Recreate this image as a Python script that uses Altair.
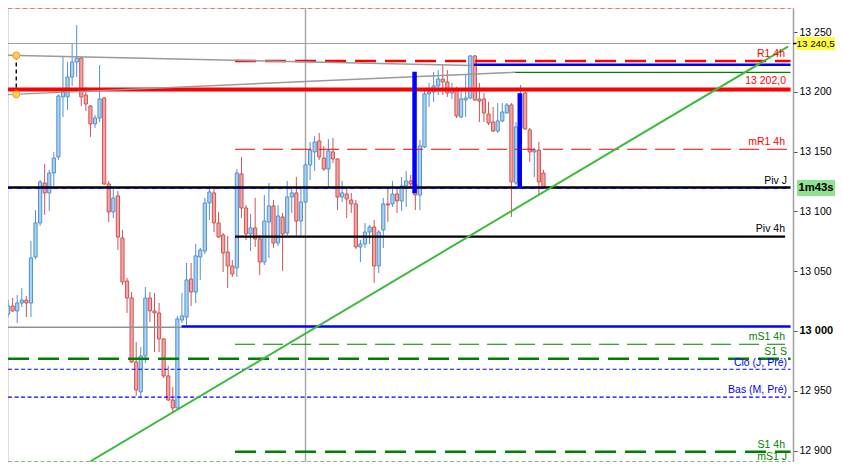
import altair as alt
import pandas as pd

# ---------------- candles ----------------
opens = [
    13014.2, 13020.9, 13016.8, 13023.4, 13025.9, 13023.4, 13061.9, 13090.4, 13123.8, 13115.5,
    13132.2, 13145.6, 13195.8, 13195.8, 13212.5, 13225.0, 13228.4, 13197.4, 13188.2, 13173.2,
    13178.2, 13194.9, 13123.0, 13099.6, 13113.0, 13077.8, 13041.8, 13027.6, 12974.1, 12949.0,
    12979.1, 13027.6, 13016.8, 13015.1, 12993.3, 12962.4, 12942.3, 12935.6, 13009.2, 13011.7,
    13043.5, 13032.6, 13061.9, 13066.9, 13107.1, 13115.5, 13090.4, 13080.3, 13066.1, 13054.4,
    13052.7, 13131.4, 13102.9, 13081.2, 13086.2, 13077.0, 13057.7, 13091.2, 13104.6, 13073.6,
    13095.4, 13082.0, 13112.1, 13115.5, 13092.0, 13107.9, 13138.9, 13149.8, 13159.0, 13144.7,
    13135.5, 13149.8, 13143.9, 13112.1, 13114.6, 13109.6, 13106.3, 13070.3, 13072.8, 13082.8,
    13087.0, 13054.4, 13084.5, 13106.3, 13106.3, 13114.6, 13108.8, 13121.3, 13125.5, 13123.0,
    13113.8, 13153.9, 13198.3, 13199.9, 13205.0, 13210.8, 13208.3, 13199.1, 13201.6, 13179.0,
    13193.3, 13194.9, 13230.1, 13194.1, 13194.1, 13181.5, 13174.8, 13167.3, 13175.7, 13182.4,
    13189.1, 13123.8, 13169.8, 13199.1, 13168.2, 13149.8, 13151.4, 13132.2,
]
highs = [
    13025.9, 13027.6, 13030.1, 13036.0, 13029.3, 13075.3, 13101.2, 13126.3, 13139.7, 13134.7,
    13149.8, 13198.0, 13229.2, 13225.0, 13240.9, 13256.0, 13229.0, 13204.1, 13189.0, 13180.7,
    13222.5, 13195.8, 13125.5, 13119.6, 13117.1, 13084.5, 13044.4, 13032.6, 12990.8, 12986.6,
    13036.8, 13032.6, 13031.8, 13023.4, 12994.0, 12970.7, 12953.2, 13012.6, 13031.8, 13056.9,
    13056.9, 13072.8, 13069.4, 13111.3, 13119.6, 13119.6, 13099.6, 13082.0, 13079.5, 13059.4,
    13135.5, 13145.6, 13105.4, 13097.9, 13111.3, 13080.3, 13113.8, 13123.8, 13109.6, 13105.4,
    13098.7, 13125.5, 13118.8, 13128.8, 13119.6, 13140.5, 13158.1, 13163.1, 13165.6, 13154.8,
    13160.6, 13161.5, 13144.5, 13125.5, 13119.6, 13115.5, 13109.6, 13076.1, 13090.4, 13088.7,
    13092.9, 13084.5, 13111.3, 13118.8, 13125.5, 13119.6, 13128.8, 13133.9, 13130.5, 13128.0,
    13159.8, 13201.6, 13207.5, 13216.7, 13218.3, 13222.5, 13218.3, 13207.5, 13204.1, 13201.6,
    13214.2, 13230.9, 13230.9, 13207.5, 13199.1, 13191.6, 13187.4, 13190.7, 13190.7, 13190.7,
    13190.7, 13174.8, 13205.8, 13199.9, 13169.8, 13153.1, 13158.1, 13134.7,
]
lows = [
    13011.7, 13016.0, 13006.7, 13020.1, 13011.7, 13011.7, 13060.2, 13087.9, 13097.1, 13100.4,
    13121.3, 13143.1, 13179.0, 13184.9, 13205.0, 13212.5, 13188.2, 13184.0, 13162.3, 13169.8,
    13174.8, 13122.1, 13091.2, 13094.5, 13067.8, 13038.5, 13015.1, 12973.2, 12945.6, 12944.8,
    12973.2, 13007.5, 12982.4, 12982.4, 12960.7, 12941.5, 12931.4, 12935.0, 13006.7, 13005.0,
    13020.9, 13023.4, 13042.7, 13064.4, 13092.9, 13082.8, 13077.8, 13049.4, 13036.0, 13045.2,
    13045.2, 13094.5, 13076.1, 13066.9, 13070.3, 13046.9, 13055.2, 13061.1, 13069.4, 13071.1,
    13050.2, 13078.6, 13098.7, 13079.5, 13079.5, 13107.1, 13126.3, 13133.9, 13143.1, 13133.9,
    13120.5, 13140.5, 13101.2, 13107.9, 13094.5, 13098.7, 13068.6, 13057.7, 13069.4, 13072.8,
    13040.2, 13048.5, 13069.4, 13091.2, 13103.7, 13098.7, 13100.4, 13103.7, 13120.5, 13101.2,
    13101.2, 13153.0, 13187.4, 13191.6, 13197.4, 13197.4, 13195.8, 13194.1, 13178.2, 13178.2,
    13179.0, 13194.1, 13192.4, 13174.8, 13174.8, 13172.3, 13166.5, 13165.6, 13174.8, 13182.0,
    13095.4, 13122.1, 13119.6, 13168.2, 13141.4, 13128.8, 13113.8, 13118.8,
]
closes = [
    13020.9, 13016.8, 13023.4, 13025.9, 13023.4, 13061.1, 13090.4, 13124.7, 13115.5, 13132.2,
    13144.7, 13196.6, 13200.8, 13212.5, 13225.0, 13228.4, 13195.8, 13189.9, 13173.2, 13178.2,
    13194.1, 13123.0, 13099.6, 13111.3, 13078.6, 13041.0, 13027.6, 12974.1, 12950.7, 12979.1,
    13027.6, 13016.8, 13015.1, 12993.3, 12962.4, 12942.3, 12935.6, 13010.1, 13012.6, 13042.7,
    13032.6, 13062.8, 13067.8, 13107.1, 13116.3, 13090.4, 13078.6, 13065.3, 13054.4, 13047.7,
    13132.2, 13102.9, 13081.2, 13086.2, 13077.0, 13057.7, 13092.0, 13104.6, 13073.6, 13096.2,
    13081.2, 13112.1, 13115.5, 13092.0, 13107.9, 13138.9, 13151.4, 13158.1, 13145.6, 13135.5,
    13150.6, 13143.9, 13112.1, 13115.5, 13110.4, 13106.3, 13070.3, 13072.8, 13082.8, 13087.0,
    13054.4, 13082.8, 13106.3, 13105.4, 13114.6, 13108.8, 13121.3, 13125.5, 13123.0, 13113.8,
    13154.8, 13198.3, 13199.9, 13205.0, 13210.8, 13208.3, 13199.1, 13201.6, 13179.9, 13194.1,
    13194.9, 13230.1, 13193.3, 13192.4, 13182.4, 13174.0, 13167.3, 13175.7, 13183.2, 13189.1,
    13124.7, 13170.7, 13198.3, 13169.0, 13149.8, 13151.4, 13124.7, 13119.6,
]
assert len(opens) == len(highs) == len(lows) == len(closes), (len(opens), len(highs), len(lows), len(closes))

# ---------------- horizontal levels ----------------
level_names = ["top", "h13240", "R1 4h", "blue_hi", "green_hi", "13 202,0", "mR1 4h",
               "Piv J", "Piv J dash", "Piv 4h", "gray_lo", "blue_lo", "mS1 4h", "S1 S",
               "Clo (J, Pré)", "Bas (M, Pré)", "S1 4h", "mS1 J"]
level_prices = [13275.0, 13240.5, 13225.9, 13222.8, 13216.4, 13202.0, 13152.0,
                13120.0, 13119.2, 13078.9, 13003.1, 13003.8, 12988.9, 12976.8,
                12968.0, 12944.6, 12899.0, 12885.6]
level_from = [0, 0, 49.6, 101.8, 110.8, 0, 49.6, 0, 0, 49.6, 0, 37.9, 49.6, 0, 0, 0, 49.6, 0]
level_to = [171, 171, 171, 171, 171, 171, 171, 171, 171, 169.8, 37.9, 171, 169.8, 171, 171, 171, 171, 171]

# line labels
label_texts = ["R1 4h", "13 202,0", "mR1 4h", "Piv J", "Piv 4h", "mS1 4h", "S1 S",
               "Clo (J, Pré)", "Bas (M, Pré)", "S1 4h", "mS1 J"]
label_prices = [13225.9, 13202.0, 13152.0, 13120.0, 13078.9, 12988.9, 12976.8,
                12968.0, 12944.6, 12899.0, 12885.6]

# drawn objects
upper_gray_i = [0, 101.4]
upper_gray_p = [13230.65, 13222.1]
lower_gray_i = [0, 110.8]
lower_gray_p = [13197.7, 13216.4]
handle_i = [1.79, 1.79]
handle_p = [13230.5, 13198.0]
trend_i = [18.0, 170.44]
trend_p = [12891.0, 13237.8]
bar_i = [88.83, 111.82]
bar_top = [13216.9, 13198.9]
bar_bot = [13115.2, 13119.4]
vline_i = [65]
tag_texts = ["13 240,5", "1m43s"]
tag_prices = [13240.5, closes[-1]]
axis_ticks = [12900, 12950, 13000, 13050, 13100, 13150, 13200, 13250]

# ---------------- styles ----------------
FONT = "Liberation Sans"
W, H = 785, 454
RED = "#ff0000"
GREEN = "#008000"
BLUE = "#0000ff"
LEVEL_STYLE = {
    "top": dict(c=RED, w=1, d=[4, 3.5]),
    "h13240": dict(c="#a0a0a0", w=1.2),
    "R1 4h": dict(c=RED, w=2.5, d=[21, 9]),
    "blue_hi": dict(c=BLUE, w=2.5),
    "green_hi": dict(c=GREEN, w=1.2),
    "13 202,0": dict(c=RED, w=4),
    "mR1 4h": dict(c=RED, w=1, d=[20, 8]),
    "Piv J": dict(c="#000000", w=2.4),
    "Piv J dash": dict(c=BLUE, w=1.2, d=[4.5, 4.5]),
    "Piv 4h": dict(c="#000000", w=2.4),
    "gray_lo": dict(c="#909090", w=1.4),
    "blue_lo": dict(c=BLUE, w=2.4),
    "mS1 4h": dict(c=GREEN, w=1, d=[20, 8]),
    "S1 S": dict(c=GREEN, w=2.5, d=[21, 9]),
    "Clo (J, Pré)": dict(c=BLUE, w=1.2, d=[4, 2.5]),
    "Bas (M, Pré)": dict(c=BLUE, w=1.2, d=[4, 2.5]),
    "S1 4h": dict(c=GREEN, w=2.5, d=[21, 9]),
    "mS1 J": dict(c=GREEN, w=1, d=[4, 2.5]),
}
LABEL_STYLE = {
    "R1 4h": (RED, 777, -7),
    "13 202,0": (RED, 778, -8.5),
    "mR1 4h": (RED, 777, -7),
    "Piv J": ("#000000", 779, -7),
    "Piv 4h": ("#000000", 777, -7.5),
    "mS1 4h": (GREEN, 777, -7),
    "S1 S": (GREEN, 779, -7),
    "Clo (J, Pré)": (BLUE, 779, -6.5),
    "Bas (M, Pré)": (BLUE, 779, -7),
    "S1 4h": (GREEN, 777, -7),
    "mS1 J": (GREEN, 779, -5),
}

XS = alt.Scale(domain=[1.079, 170.44], nice=False, zero=False)
YS = alt.Scale(domain=[12890.4, 13270.2], nice=False, zero=False, clamp=True)
YAX = alt.Axis(
    orient="right", values=axis_ticks, title=None, grid=False,
    labelExpr="replace(format(datum.value, ','), ',', ' ')",
    domainColor="#a0a0a0", domainWidth=1.5, tickColor="#505050", tickSize=4,
    labelPadding=2, labelFont=FONT, labelColor="#000000",
    labelFontSize={"condition": {"test": "datum.value == 13000", "value": 11}, "value": 10.5},
    labelFontWeight={"condition": {"test": "datum.value == 13000", "value": "bold"}, "value": "normal"},
)


def X(f):
    return alt.X(f, scale=XS, axis=None)


def Y(f):
    return alt.Y(f, scale=YS, axis=YAX)


n = len(opens)
cdf = pd.DataFrame({"i": list(range(n)), "open": opens, "high": highs,
                    "low": lows, "close": closes})
cdf["dir"] = ["up" if c >= o else "down" for o, c in zip(opens, closes)]

layers = []

# vertical separator
layers.append(alt.Chart(pd.DataFrame({"i": vline_i})).mark_rule(
    color="#a8a8a8", strokeWidth=1.5, clip=True).encode(x=X("i:Q")))

# wicks
layers.append(alt.Chart(cdf).mark_rule(strokeWidth=1, clip=True).encode(
    x=X("i:Q"), y=Y("low:Q"), y2="high:Q",
    color=alt.Color("dir:N", scale=alt.Scale(domain=["up", "down"], range=["#5590cc", "#cc5555"]), legend=None)))

# bodies
layers.append(alt.Chart(cdf).mark_bar(size=3.2, strokeWidth=1, clip=True, orient="vertical").encode(
    x=X("i:Q"), y=Y("open:Q"), y2="close:Q",
    fill=alt.Fill("dir:N", scale=alt.Scale(domain=["up", "down"], range=["#a6d2f6", "#f5a3a3"]), legend=None),
    stroke=alt.Stroke("dir:N", scale=alt.Scale(domain=["up", "down"], range=["#5590cc", "#cc5555"]), legend=None)))

# horizontal levels
for name, p, x0, x1 in zip(level_names, level_prices, level_from, level_to):
    st = LEVEL_STYLE[name]
    kw = dict(color=st["c"], strokeWidth=st["w"], clip=True, strokeCap="butt")
    if "d" in st:
        kw["strokeDash"] = st["d"]
    d = pd.DataFrame({"x0": [x0], "x1": [x1], "p": [p]})
    layers.append(alt.Chart(d).mark_rule(**kw).encode(x=X("x0:Q"), x2="x1:Q", y=Y("p:Q")))

# sloped gray lines
gdf = pd.DataFrame({"i": upper_gray_i + lower_gray_i, "p": upper_gray_p + lower_gray_p,
                    "g": ["u", "u", "l", "l"]})
layers.append(alt.Chart(gdf).mark_line(color="#9a9a9a", strokeWidth=1.4, clip=True).encode(
    x=X("i:Q"), y=Y("p:Q"), detail="g:N"))

# green trend line
layers.append(alt.Chart(pd.DataFrame({"i": trend_i, "p": trend_p})).mark_line(
    color="#3dba3d", strokeWidth=2, clip=True).encode(x=X("i:Q"), y=Y("p:Q")))

# thick blue bars
layers.append(alt.Chart(pd.DataFrame({"i": bar_i, "top": bar_top, "bot": bar_bot})).mark_rule(
    color=BLUE, strokeWidth=4.5, strokeCap="butt", clip=True).encode(
    x=X("i:Q"), y=Y("top:Q"), y2="bot:Q"))

# handles
hdf = pd.DataFrame({"i": [handle_i[0]], "a": [handle_p[0]], "b": [handle_p[1]]})
layers.append(alt.Chart(hdf).mark_rule(color="#000000", strokeWidth=1.4, strokeDash=[4, 3], clip=True).encode(
    x=X("i:Q"), y=Y("a:Q"), y2="b:Q"))
layers.append(alt.Chart(pd.DataFrame({"i": handle_i, "p": handle_p})).mark_point(
    filled=True, shape="circle", size=50, fill="#ffcc55", stroke="#f0a020", strokeWidth=1, opacity=1).encode(
    x=X("i:Q"), y=Y("p:Q")))

# line labels
for t, p in zip(label_texts, label_prices):
    c, xr, dy = LABEL_STYLE[t]
    layers.append(alt.Chart(pd.DataFrame({"t": [t], "p": [p]})).mark_text(
        align="right", baseline="middle", font=FONT, fontSize=10.5, color=c, dy=dy).encode(
        x=alt.value(xr), y=Y("p:Q"), text="t:N"))

# right-side price tags (all within the 827 px the page can hold)
tdf = pd.DataFrame({"t": [tag_texts[0]], "p": [tag_prices[0]]})
layers.append(alt.Chart(tdf).mark_rule(color="#000000", strokeWidth=1.5).encode(
    x=alt.value(785), x2=alt.value(790), y=Y("p:Q")))
layers.append(alt.Chart(tdf).mark_rule(color="#ffff40", strokeWidth=13, strokeCap="butt").encode(
    x=alt.value(788.5), x2=alt.value(827), y=Y("p:Q")))
layers.append(alt.Chart(tdf).mark_text(font=FONT, fontSize=9.8, color="#000000", align="center",
                                        baseline="middle").encode(
    x=alt.value(807.6), y=Y("p:Q"), text="t:N"))

gtf = pd.DataFrame({"t": [tag_texts[1]], "p": [tag_prices[1]]})
layers.append(alt.Chart(gtf).mark_rule(color="#8fe28f", strokeWidth=16, strokeCap="butt").encode(
    x=alt.value(789), x2=alt.value(827), y=Y("p:Q")))
layers.append(alt.Chart(gtf).mark_text(font=FONT, fontSize=11.3, fontWeight="bold", color="#000000",
                                        align="center", baseline="middle").encode(
    x=alt.value(808), y=Y("p:Q"), text="t:N"))

# exact page footprint: plot 785x454, 42 px kept on the right for the axis and tags
chart = alt.layer(*layers).properties(
    width=W, height=H,
    padding={"left": 0, "top": 0, "right": 42, "bottom": 0},
    autosize=alt.AutoSizeParams(type="none"),
).configure_view(strokeWidth=0).configure(background="#ffffff")

chart.save("out.html", embed_options={"renderer": "svg", "actions": False})
